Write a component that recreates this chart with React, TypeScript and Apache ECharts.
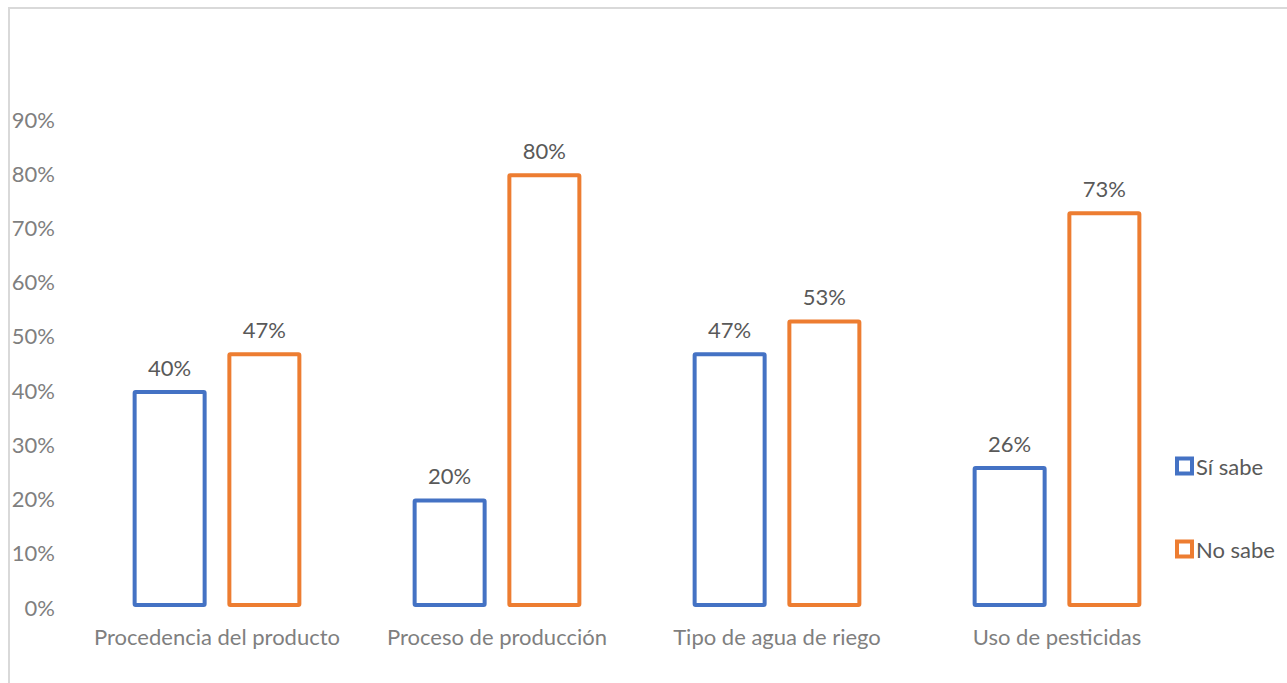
import React, { useEffect, useRef } from "react";
import * as echarts from "echarts";

const categories = [
  "Procedencia del producto",
  "Proceso de producción",
  "Tipo de agua de riego",
  "Uso de pesticidas",
];
const siSabe = [40, 20, 47, 26];
const noSabe = [47, 80, 53, 73];
const seriesNames = ["Sí sabe", "No sabe"];
const yTicks = { min: 0, max: 90, interval: 10 };

const FONT = "Lato";
const FS = 22;

export default function App() {
  const ref = useRef<HTMLDivElement>(null);
  useEffect(() => {
    if (!ref.current) return;
    const chart = echarts.init(ref.current, null, { renderer: "svg" });
    const mk = (name: string, data: number[], color: string) => ({
      name,
      type: "bar",
      data,
      barWidth: 74,
      barGap: "28%",
      itemStyle: { color: "#ffffff", borderColor: color, borderWidth: 4, borderRadius: 1 },
      label: {
        show: true,
        position: "top",
        distance: 12,
        formatter: "{c}%",
        color: "#595959",
        fontSize: FS,
        fontFamily: FONT,
      },
    });
    chart.setOption({
      animation: false,
      backgroundColor: "#ffffff",
      grid: { left: 77, right: 90, top: 119, bottom: 76, containLabel: false },
      legend: {
        orient: "vertical",
        left: 1170,
        top: 450,
        itemWidth: 15,
        itemHeight: 15,
        itemGap: 61,
        icon: "rect",
        textStyle: { color: "#595959", fontSize: FS, fontFamily: FONT, padding: [0, 0, 0, -1] },
        data: [
          { name: seriesNames[0], itemStyle: { color: "#ffffff", borderColor: "#4472C4", borderWidth: 4 } },
          { name: seriesNames[1], itemStyle: { color: "#ffffff", borderColor: "#ED7D31", borderWidth: 4 } },
        ],
      },
      xAxis: {
        type: "category",
        data: categories,
        axisLine: { show: false },
        axisTick: { show: false },
        axisLabel: { color: "#7f7f7f", fontSize: FS, fontFamily: FONT, margin: 18, interval: 0 },
      },
      yAxis: {
        type: "value",
        min: yTicks.min,
        max: yTicks.max,
        interval: yTicks.interval,
        splitLine: { show: false },
        axisLine: { show: false },
        axisTick: { show: false },
        axisLabel: { formatter: "{value}%", color: "#7f7f7f", fontSize: FS, fontFamily: FONT, margin: 22 },
      },
      series: [mk(seriesNames[0], siSabe, "#4472C4"), mk(seriesNames[1], noSabe, "#ED7D31")],
    });
    return () => chart.dispose();
  }, []);
  return (
    <div style={{ position: "fixed", left: 0, top: 0, width: 1287, height: 683, background: "#fff" }}>
      <div ref={ref} style={{ position: "absolute", left: 0, top: 0, width: 1287, height: 683 }} />
      <div
        style={{
          position: "absolute",
          left: 8,
          top: 7,
          width: 1400,
          height: 800,
          border: "2px solid #d9d9d9",
          pointerEvents: "none",
        }}
      />
    </div>
  );
}
